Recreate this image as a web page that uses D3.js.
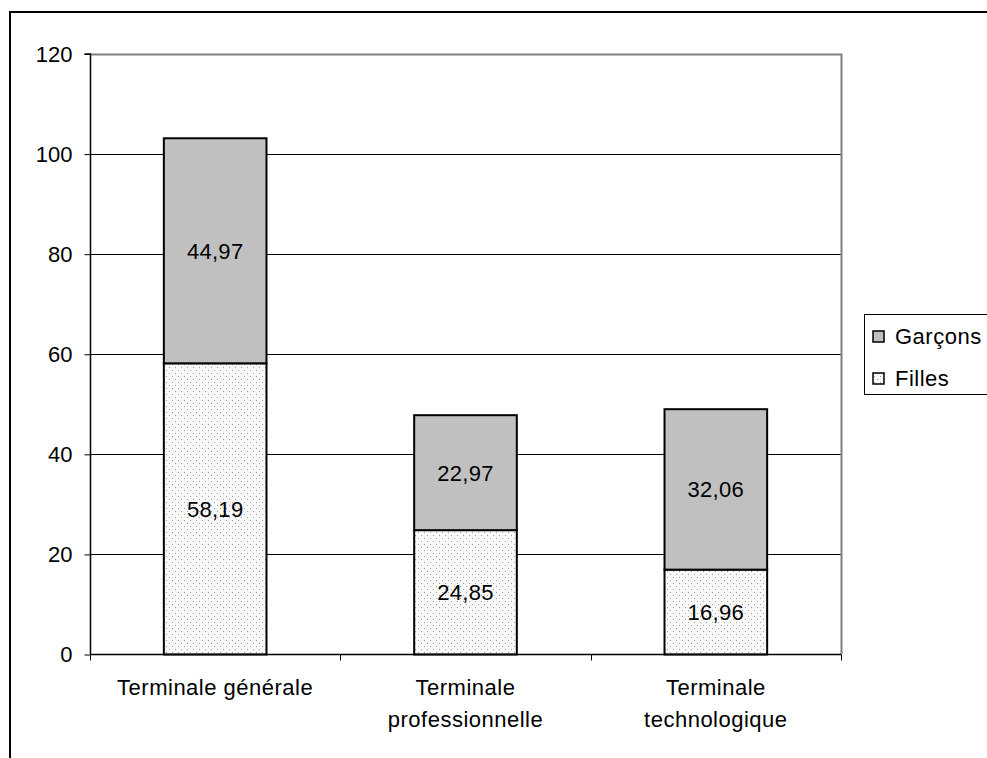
<!DOCTYPE html>
<html>
<head>
<meta charset="utf-8">
<script src="https://cdn.jsdelivr.net/npm/d3@7/dist/d3.min.js"></script>
<style>
  html, body { margin: 0; padding: 0; background: #fff; }
  svg { display: block; font-family: "Liberation Sans", Arial, sans-serif; }
</style>
</head>
<body>
<svg id="chart" width="987" height="758"></svg>
<script>
// ---- Data ----
const categories = ["Terminale générale", "Terminale professionnelle", "Terminale technologique"];
const tickLabels = [["Terminale générale"], ["Terminale", "professionnelle"], ["Terminale", "technologique"]];
const filles = [58.19, 24.85, 16.96];
const garcons = [44.97, 22.97, 32.06];
const seriesNames = ["Filles", "Garçons"];
const yTicks = [0, 20, 40, 60, 80, 100, 120];

// ---- Layout ----
const W = 987, H = 758;
const plot = { left: 90, right: 841, top: 54, bottom: 654.5 };
const FONT = 22;

const svg = d3.select("#chart");

// pattern for Filles
const defs = svg.append("defs");
const pat = defs.append("pattern").attr("id", "dots")
  .attr("patternUnits", "userSpaceOnUse").attr("width", 6).attr("height", 6);
pat.append("rect").attr("width", 6).attr("height", 6).attr("fill", "#f8f8f8");
pat.append("rect").attr("x", 1).attr("y", 1).attr("width", 1).attr("height", 1).attr("fill", "#a0a0a0");
pat.append("rect").attr("x", 4).attr("y", 4).attr("width", 1).attr("height", 1).attr("fill", "#a0a0a0");

// outer border
svg.append("rect").attr("x", 10).attr("y", 12).attr("width", W + 20).attr("height", H + 20)
  .attr("fill", "none").attr("stroke", "#000").attr("stroke-width", 2);

const x = d3.scaleBand().domain(categories).range([plot.left, plot.right])
  .paddingInner(0.59).paddingOuter(0.295);
const y = d3.scaleLinear().domain([0, 120]).range([plot.bottom, plot.top]);

// gridlines
svg.append("g").selectAll("line").data(yTicks.filter(d => d > 0 && d < 120)).join("line")
  .attr("x1", plot.left).attr("x2", plot.right)
  .attr("y1", d => Math.round(y(d)) + 0.5).attr("y2", d => Math.round(y(d)) + 0.5)
  .attr("stroke", "#000").attr("stroke-width", 1);

// plot border (top & right, gray)
svg.append("path")
  .attr("d", `M${plot.left},${Math.round(y(120)) + 0.5}H${plot.right + 0.5}V${plot.bottom}`)
  .attr("fill", "none").attr("stroke", "#808080").attr("stroke-width", 2);

// stacked bars
const stackData = categories.map((c, i) => ({ cat: c, Filles: filles[i], "Garçons": garcons[i] }));
const stacked = d3.stack().keys(seriesNames)(stackData);
const fills = { "Filles": "url(#dots)", "Garçons": "#c0c0c0" };

stacked.forEach(layer => {
  const g = svg.append("g");
  g.selectAll("rect").data(layer).join("rect")
    .attr("x", d => x(d.data.cat))
    .attr("y", d => y(d[1]))
    .attr("width", x.bandwidth())
    .attr("height", d => y(d[0]) - y(d[1]))
    .attr("fill", fills[layer.key])
    .attr("stroke", "#000").attr("stroke-width", 2);
  g.selectAll("text").data(layer).join("text")
    .attr("x", d => x(d.data.cat) + x.bandwidth() / 2)
    .attr("y", d => (y(d[0]) + y(d[1])) / 2)
    .attr("dy", "0.36em")
    .attr("text-anchor", "middle")
    .attr("font-size", FONT)
    .attr("letter-spacing", 0.3)
    .attr("fill", "#000")
    .text(d => (d[1] - d[0]).toFixed(2).replace(".", ","));
});

// y axis
const yAxis = d3.axisLeft(y).tickValues(yTicks).tickSize(6).tickPadding(12)
  .tickFormat(d => d);
const yg = svg.append("g").attr("transform", `translate(${plot.left + 0.5},0)`).call(yAxis);
yg.select(".domain").attr("stroke", "#000").attr("stroke-width", 1.5)
  .attr("d", `M-6,${y(120)}H0V${plot.bottom}`);
yg.selectAll(".tick line").attr("stroke", "#000");
yg.selectAll(".tick text").attr("font-size", FONT).attr("font-family", "Liberation Sans, Arial, sans-serif").attr("fill", "#000");

// x axis
svg.append("line").attr("x1", plot.left).attr("x2", plot.right)
  .attr("y1", plot.bottom).attr("y2", plot.bottom)
  .attr("stroke", "#000").attr("stroke-width", 1.5);
const step = x.step();
svg.append("g").selectAll("line").data(d3.range(categories.length + 1)).join("line")
  .attr("x1", i => Math.round(plot.left + i * step) + 0.5)
  .attr("x2", i => Math.round(plot.left + i * step) + 0.5)
  .attr("y1", plot.bottom).attr("y2", plot.bottom + 6)
  .attr("stroke", "#000").attr("stroke-width", 1);

const xl = svg.append("g").selectAll("text").data(categories).join("text")
  .attr("x", d => x(d) + x.bandwidth() / 2)
  .attr("y", 695)
  .attr("text-anchor", "middle")
  .attr("font-size", FONT)
  .attr("letter-spacing", 0.5)
  .attr("fill", "#000");
xl.each(function (d, i) {
  const t = d3.select(this);
  tickLabels[i].forEach((line, k) => {
    t.append("tspan").attr("x", x(d) + x.bandwidth() / 2).attr("dy", k === 0 ? 0 : 32).text(line);
  });
});

// legend
const lg = svg.append("g");
lg.append("rect").attr("x", 864.5).attr("y", 314.5).attr("width", 140).attr("height", 80)
  .attr("fill", "#fff").attr("stroke", "#000").attr("stroke-width", 1);
const legendItems = ["Garçons", "Filles"];
legendItems.forEach((name, i) => {
  const cy = 336.5 + i * 42;
  lg.append("rect").attr("x", 873).attr("y", cy - 5.5).attr("width", 11).attr("height", 11)
    .attr("fill", fills[name]).attr("stroke", "#000").attr("stroke-width", 1.5);
  lg.append("text").attr("x", 895).attr("y", cy).attr("dy", "0.36em")
    .attr("font-size", FONT).attr("letter-spacing", 0.5).attr("fill", "#000").text(name);
});
</script>
</body>
</html>
